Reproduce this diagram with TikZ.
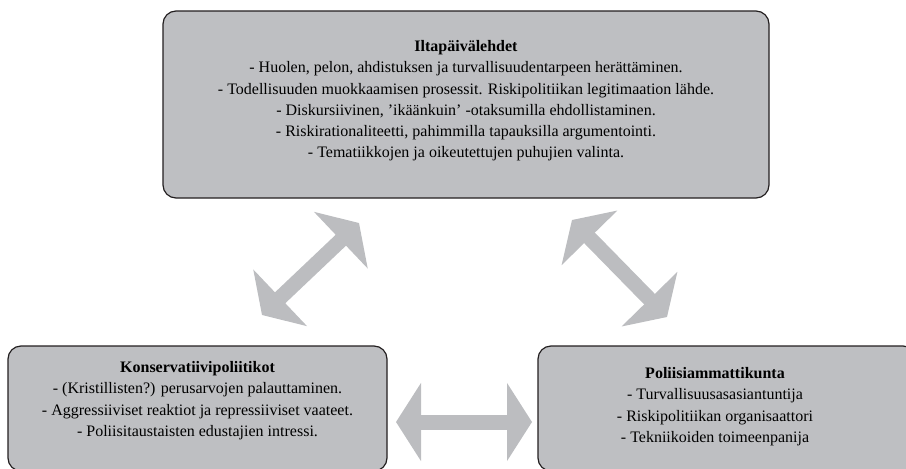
\documentclass[tikz,border=0pt]{standalone}
\usepackage{fontspec}
\setmainfont{Liberation Serif}
\definecolor{boxgray}{RGB}{190, 191, 194}
\definecolor{arrowgray}{RGB}{188, 189, 192}
\definecolor{boxline}{RGB}{35, 31, 32}
\usetikzlibrary{arrows.meta, positioning}

\begin{document}
\begin{tikzpicture}[
  x=1pt, y=-1pt,
  box/.style={rectangle, rounded corners=13pt, draw=boxline, fill=boxgray,
              line width=1.2pt, inner sep=0pt},
  txt/.style={align=center, inner sep=0pt, font=\fontsize{16}{21.2}\selectfont},
  arr/.style={{Triangle[width=77pt, length=25pt]}-{Triangle[width=77pt, length=25pt]},
              line width=15pt, arrowgray}
]
  \useasboundingbox (0,0) rectangle (906,469);
  \clip (0,0) rectangle (906,469);
  % boxes
  \node[box, minimum width=606pt, minimum height=187pt] (ilta) at (466,104.5) {};
  \node[box, minimum width=379pt, minimum height=125pt] (kons) at (197.5,408.5) {};
  \node[box, minimum width=378pt, minimum height=125pt] (polii) at (727,408.5) {};
  % texts
  \node[txt, below=30pt of ilta.north] (ilta-txt) {\textbf{Iltapäivälehdet}\\
    - Huolen, pelon, ahdistuksen ja turvallisuudentarpeen herättäminen.\\
    - Todellisuuden muokkaamisen prosessit. Riskipolitiikan legitimaation lähde.\\
    - Diskursiivinen, ’ikäänkuin’ -otaksumilla ehdollistaminen.\\
    - Riskirationaliteetti, pahimmilla tapauksilla argumentointi.\\
    - Tematiikkojen ja oikeutettujen puhujien valinta.};
  \node[txt, below=16pt of kons.north] (kons-txt) {\textbf{Konservatiivipoliitikot}\\
    - (Kristillisten?) perusarvojen palauttaminen.\\
    - Aggressiiviset reaktiot ja repressiiviset vaateet.\\
    - Poliisitaustaisten edustajien intressi.};
  \node[txt, below=22pt of polii.north, xshift=-12pt] (polii-txt) {\textbf{Poliisiammattikunta}\\
    - Turvallisuusasasiantuntija\\
    - Riskipolitiikan organisaattori\\
    - Tekniikoiden toimeenpanija};
  % arrow ends
  \coordinate (kl) at (262,315);
  \coordinate (il) at (359,223);
  \coordinate (ir) at (572,220);
  \coordinate (pr) at (667,317);
  \coordinate (kr) at (396,422);
  \coordinate (pl) at (532,422);
  \draw[arr] (kl) -- (il);
  \draw[arr] (ir) -- (pr);
  \draw[arr] (kr) -- (pl);
\end{tikzpicture}
\end{document}
